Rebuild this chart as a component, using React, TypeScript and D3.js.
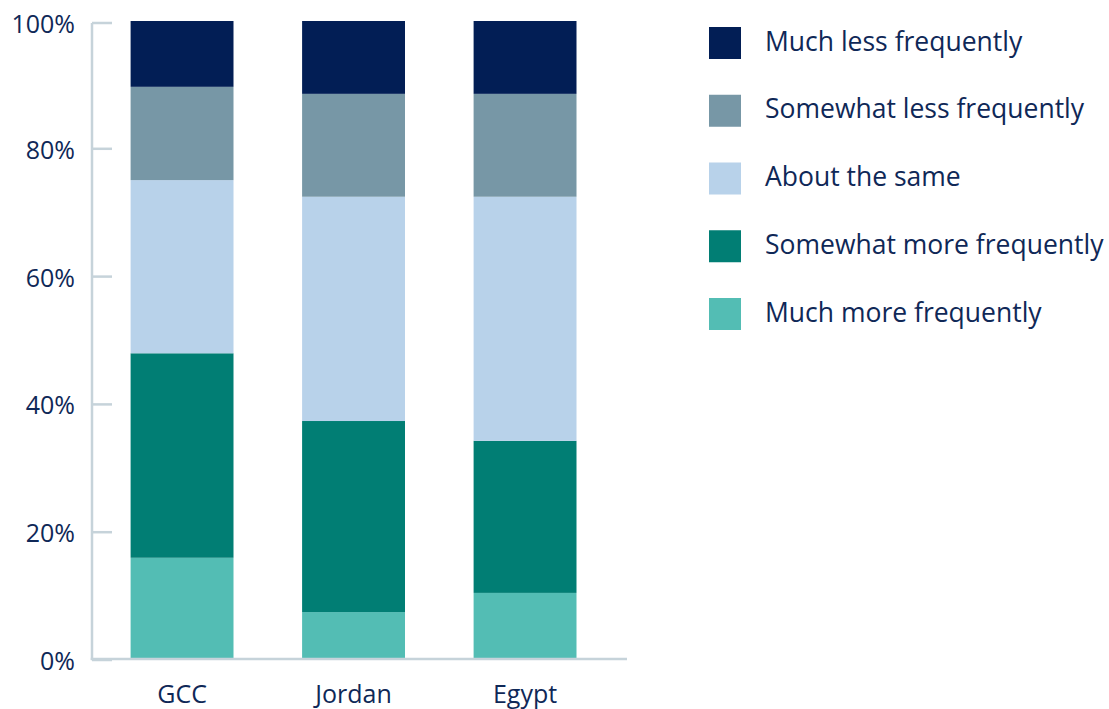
import React from "react";
import * as d3 from "d3";

const categories = ["GCC", "Jordan", "Egypt"];
const seriesNames = [
  "Much more frequently",
  "Somewhat more frequently",
  "About the same",
  "Somewhat less frequently",
  "Much less frequently",
];
const muchMore = [16, 7.5, 10.5];
const somewhatMore = [32, 29.9, 23.8];
const aboutSame = [27.1, 35.1, 38.2];
const somewhatLess = [14.6, 16.1, 16.1];
const muchLess = [10.3, 11.4, 11.4];
const yTicks = [0, 20, 40, 60, 80, 100];
const legendOrder = [
  "Much less frequently",
  "Somewhat less frequently",
  "About the same",
  "Somewhat more frequently",
  "Much more frequently",
];

const colors: Record<string, string> = {
  "Much more frequently": "#53bdb4",
  "Somewhat more frequently": "#017e74",
  "About the same": "#b8d2ea",
  "Somewhat less frequently": "#7797a6",
  "Much less frequently": "#021e55",
};

const W = 1109;
const H = 709;
const TEXT = "#0f2857";
const AXIS = "#c6d3da";
const FONT = "'Open Sans', sans-serif";

export default function App() {
  const seriesValues = [muchMore, somewhatMore, aboutSame, somewhatLess, muchLess];
  const rows = categories.map((c, i) => {
    const r: any = { cat: c };
    seriesNames.forEach((s, k) => (r[s] = seriesValues[k][i]));
    return r;
  });
  const stacked = d3.stack<any>().keys(seriesNames)(rows);

  const x = d3
    .scaleBand<string>()
    .domain(categories)
    .range([96.3, 610.8])
    .paddingInner(0.4)
    .paddingOuter(0.2);
  const y = d3.scaleLinear().domain([0, 100]).range([660, 21]);

  const axisX = 92;
  const axisRight = 627;

  return (
    <svg
      width={W}
      height={H}
      style={{ position: "absolute", left: 0, top: 0, background: "#fff" }}
      fontFamily={FONT}
    >
      {/* y axis */}
      <line x1={axisX} x2={axisX} y1={y(100) + 2} y2={y(0)} stroke={AXIS} strokeWidth={2.5} />
      {yTicks.map((t) => (
        <g key={t}>
          <line x1={axisX} x2={112} y1={y(t) + (t === 100 ? 2 : 0)} y2={y(t) + (t === 100 ? 2 : 0)} stroke={AXIS} strokeWidth={2.5} />
          <text
            x={75}
            y={y(t) + (t === 100 ? 2 : 0)}
            textAnchor="end"
            dominantBaseline="central"
            fontSize={25}
            fill={TEXT}
          >
            {t}%
          </text>
        </g>
      ))}
      {/* bars */}
      {stacked.map((s) => (
        <g key={s.key} fill={colors[s.key]}>
          {s.map((d, i) => (
            <rect
              key={i}
              x={x(categories[i])}
              width={x.bandwidth()}
              y={y(d[1])}
              height={y(d[0]) - y(d[1])}
            />
          ))}
        </g>
      ))}
      {/* x axis */}
      <line x1={axisX - 1.25} x2={axisRight} y1={659} y2={659} stroke={AXIS} strokeWidth={2.5} />
      {categories.map((c) => (
        <text
          key={c}
          x={(x(c) as number) + x.bandwidth() / 2}
          y={703}
          textAnchor="middle"
          fontSize={25}
          fill={TEXT}
        >
          {c}
        </text>
      ))}
      {/* legend */}
      {legendOrder.map((name, i) => {
        const top = 27 + i * 67.75;
        return (
          <g key={name}>
            <rect x={709} y={top} width={32} height={32} fill={colors[name]} />
            <text x={765} y={top + 23.5} fontSize={26.5} fill={TEXT}>
              {name}
            </text>
          </g>
        );
      })}
    </svg>
  );
}
